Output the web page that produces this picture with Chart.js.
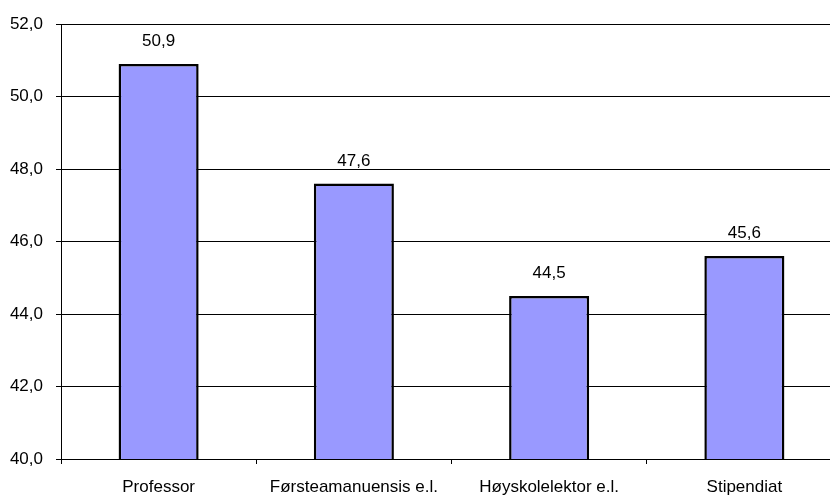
<!DOCTYPE html>
<html>
<head>
<meta charset="utf-8">
<script src="https://cdn.jsdelivr.net/npm/chart.js@4"></script>
<style>
  html, body { margin: 0; padding: 0; background: #fff; overflow: hidden; }
  #wrap { width: 842px; height: 500px; }
</style>
</head>
<body>
<div id="wrap"><canvas id="barChart" width="842" height="500"></canvas></div>
<script>
// stillingsgrupper og verdier
const categories = ["Professor", "Førsteamanuensis e.l.", "Høyskolelektor e.l.", "Stipendiat"];
const values = [50.9, 47.6, 44.5, 45.6];
const yTicks = [40, 42, 44, 46, 48, 50, 52];

const fmt = (v) => v.toFixed(1).replace(".", ",");

const FONT = "'Liberation Sans', Arial, sans-serif";

// verdietiketter over søylene
const valueLabels = {
  id: "valueLabels",
  afterDatasetsDraw(chart) {
    const ctx = chart.ctx;
    const meta = chart.getDatasetMeta(0);
    ctx.save();
    ctx.font = "17px " + FONT;
    ctx.fillStyle = "#000";
    ctx.textAlign = "center";
    ctx.textBaseline = "alphabetic";
    meta.data.forEach((bar, i) => {
      ctx.fillText(fmt(values[i]), bar.x, bar.y - 18);
    });
    ctx.restore();
  }
};

const ctx = document.getElementById("barChart").getContext("2d");

new Chart(ctx, {
  type: "bar",
  data: {
    labels: categories,
    datasets: [
      {
        data: values,
        backgroundColor: "#9999FF",
        borderColor: "#000",
        borderWidth: 2.5,
        borderSkipped: false,
        barPercentage: 0.41,
        categoryPercentage: 1
      }
    ]
  },
  options: {
    responsive: false,
    animation: false,
    layout: { padding: { top: 24, right: 0, left: 0, bottom: 0 } },
    plugins: {
      legend: { display: false },
      tooltip: { enabled: false }
    },
    scales: {
      x: {
        offset: true,
        grid: {
          offset: true,
          drawOnChartArea: false,
          drawTicks: true,
          tickLength: 5,
          color: "#000"
        },
        border: { color: "#000", width: 1 },
        ticks: {
          color: "#000",
          font: { family: FONT, size: 17 },
          padding: 13,
          maxRotation: 0,
          autoSkip: false
        },
        afterFit(scale) { scale.height = 41; }
      },
      y: {
        min: 40,
        max: 52,
        afterBuildTicks(scale) {
          scale.ticks = yTicks.map((v) => ({ value: v }));
        },
        grid: {
          color: "#000",
          lineWidth: 1,
          drawTicks: true,
          tickLength: 5
        },
        border: { color: "#000", width: 1 },
        ticks: {
          color: "#000",
          font: { family: FONT, size: 17 },
          padding: 13,
          callback: (v) => fmt(v)
        },
        afterFit(scale) { scale.width = 61; }
      }
    }
  },
  plugins: [valueLabels]
});
</script>
</body>
</html>
